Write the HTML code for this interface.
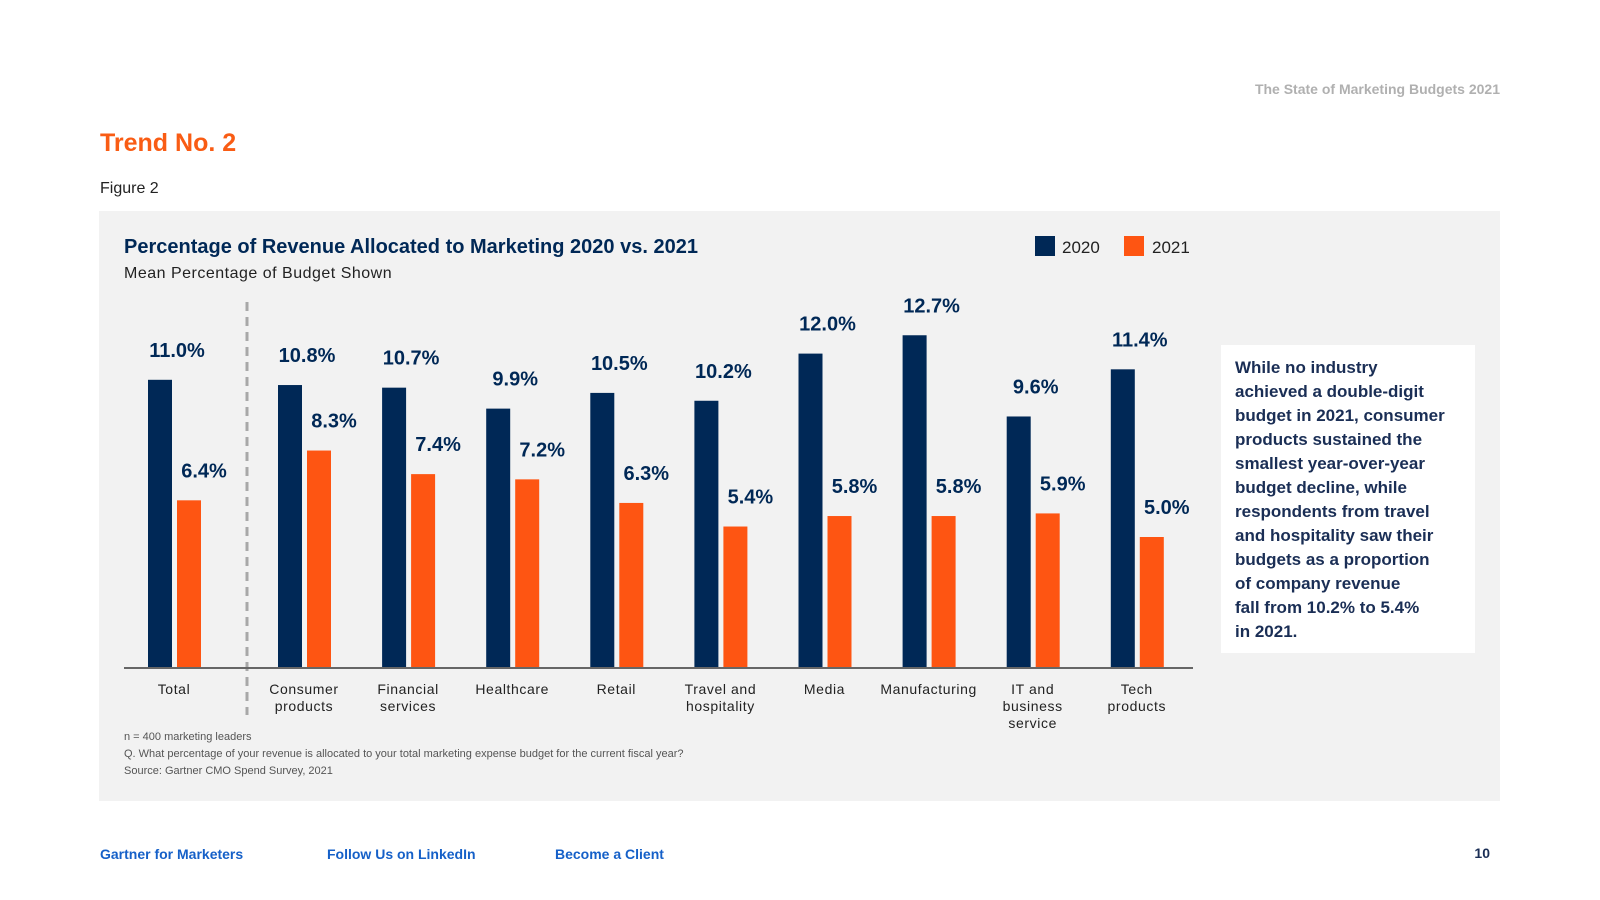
<!DOCTYPE html>
<html><head><meta charset="utf-8"><style>
body{margin:0;width:1600px;height:900px;background:#fff;font-family:"Liberation Sans",sans-serif;position:relative;overflow:hidden}
.abs{position:absolute;white-space:nowrap}
</style></head><body>
<div class="abs" style="right:100px;top:81px;font-size:14px;color:#b0b0b0;font-weight:bold">The State of Marketing Budgets 2021</div>
<div class="abs" style="left:100px;top:129px;font-size:25px;font-weight:bold;color:#f95c14">Trend No. 2</div>
<div class="abs" style="left:100px;top:180px;font-size:16px;color:#222">Figure 2</div>
<svg class="abs" style="left:0;top:0" width="1600" height="900">
<rect x="99" y="211" width="1401" height="590" fill="#f2f2f2"/>
<text x="124" y="253" font-size="20" font-weight="bold" fill="#002856">Percentage of Revenue Allocated to Marketing 2020 vs. 2021</text>
<text x="124" y="278" font-size="16" fill="#222" letter-spacing="0.5">Mean Percentage of Budget Shown</text>
<rect x="1035" y="236" width="20" height="20" fill="#002856"/>
<text x="1062" y="253" font-size="17" fill="#222">2020</text>
<rect x="1124" y="236" width="20" height="20" fill="#fe5512"/>
<text x="1152" y="253" font-size="17" fill="#222">2021</text>
<line x1="247" y1="302" x2="247" y2="715" stroke="#a8a8a8" stroke-width="3" stroke-dasharray="9,6"/>
<g id="bars"></g>
<line x1="124" y1="668" x2="1193" y2="668" stroke="#666" stroke-width="2"/>
<text x="124" y="740" font-size="11" fill="#555">n = 400 marketing leaders</text>
<text x="124" y="757" font-size="11" fill="#555">Q. What percentage of your revenue is allocated to your total marketing expense budget for the current fiscal year?</text>
<text x="124" y="774" font-size="11" fill="#555">Source: Gartner CMO Spend Survey, 2021</text>
<rect x="1221" y="345" width="254" height="308" fill="#fff"/>
<text font-size="17" font-weight="bold" fill="#1a2e55">
<tspan x="1235" y="373">While no industry</tspan>
<tspan x="1235" y="397">achieved a double-digit</tspan>
<tspan x="1235" y="421">budget in 2021, consumer</tspan>
<tspan x="1235" y="445">products sustained the</tspan>
<tspan x="1235" y="469">smallest year-over-year</tspan>
<tspan x="1235" y="493">budget decline, while</tspan>
<tspan x="1235" y="517">respondents from travel</tspan>
<tspan x="1235" y="541">and hospitality saw their</tspan>
<tspan x="1235" y="565">budgets as a proportion</tspan>
<tspan x="1235" y="589">of company revenue</tspan>
<tspan x="1235" y="613">fall from 10.2% to 5.4%</tspan>
<tspan x="1235" y="637">in 2021.</tspan>
</text>
</svg>
<div class="abs" style="left:100px;top:846px;font-size:14px;font-weight:bold;color:#1560c8">Gartner for Marketers</div>
<div class="abs" style="left:327px;top:846px;font-size:14px;font-weight:bold;color:#1560c8">Follow Us on LinkedIn</div>
<div class="abs" style="left:555px;top:846px;font-size:14px;font-weight:bold;color:#1560c8">Become a Client</div>
<div class="abs" style="right:110px;top:845px;font-size:14px;font-weight:bold;color:#1a2e55">10</div>
<script>
const categories=[["Total"],["Consumer","products"],["Financial","services"],["Healthcare"],["Retail"],["Travel and","hospitality"],["Media"],["Manufacturing"],["IT and","business","service"],["Tech","products"]];
const values2020=[11.0,10.8,10.7,9.9,10.5,10.2,12.0,12.7,9.6,11.4];
const values2021=[6.4,8.3,7.4,7.2,6.3,5.4,5.8,5.8,5.9,5.0];
const NS="http://www.w3.org/2000/svg";
const g=document.getElementById('bars');
const baseY=668, scale=26.2, bw=24;
function xPos(i){return i===0?148:278+(i-1)*104.1;}
function yPos(v){return baseY-v*scale;}
function mk(tag,attrs){const e=document.createElementNS(NS,tag);for(const k in attrs)e.setAttribute(k,attrs[k]);g.appendChild(e);return e;}
categories.forEach((c,i)=>{
  const x=xPos(i);
  const r1=mk('rect',{x:x,y:yPos(values2020[i]),width:bw,height:values2020[i]*scale,fill:'#002856'});
  
  
  const r2=mk('rect',{x:x+29,y:yPos(values2021[i]),width:bw,height:values2021[i]*scale,fill:'#fe5512'});
  
  
  const t1=mk('text',{x:x+29,y:yPos(values2020[i])-23,'font-size':20,'font-weight':'bold',fill:'#002856','text-anchor':'middle'});
  t1.textContent=values2020[i].toFixed(1)+'%';
  
  
  const t2=mk('text',{x:x+56,y:yPos(values2021[i])-23,'font-size':20,'font-weight':'bold',fill:'#002856','text-anchor':'middle'});
  t2.textContent=values2021[i].toFixed(1)+'%';
  
  
  c.forEach((line,j)=>{
    const t=mk('text',{x:x+26,y:694+j*17,'font-size':14,fill:'#222','text-anchor':'middle','letter-spacing':'0.6'});
    t.textContent=line;
    
    
  });
});
</script>
</body></html>
